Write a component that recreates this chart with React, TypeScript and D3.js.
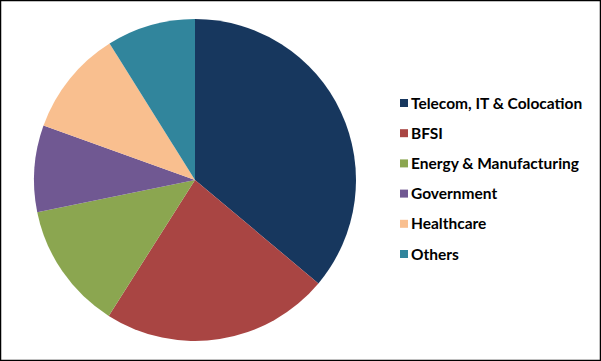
import { useMemo } from "react";
import * as d3 from "d3";

const WIDTH = 601;
const HEIGHT = 361;

const categories = [
    "Telecom, IT & Colocation",
    "BFSI",
    "Energy & Manufacturing",
    "Government",
    "Healthcare",
    "Others",
];
const shares = [36.1, 22.9, 12.8, 8.7, 10.6, 8.9];
const colors = ["#17375E", "#A94543", "#8BA650", "#705892", "#F9BF8F", "#31859C"];

const CENTER_X = 195;
const CENTER_Y = 180;
const RADIUS = 161;

const App = () => {
    const arcs = useMemo(() => {
        const pieGen = d3.pie<number>().sort(null).value((d) => d);
        const arcGen = d3.arc<d3.PieArcDatum<number>>().innerRadius(0).outerRadius(RADIUS);
        return pieGen(shares).map((p) => arcGen(p));
    }, []);

    const legendY = d3.scalePoint<string>().domain(categories).range([103, 254]);

    return (
        <svg
            width={WIDTH}
            height={HEIGHT}
            style={{ position: "absolute", left: 0, top: 0, background: "#fff" }}
        >
            <rect x={0.5} y={0.5} width={WIDTH - 1} height={HEIGHT - 1} fill="#fff" stroke="#000" strokeWidth={1.5} />
            <g transform={`translate(${CENTER_X}, ${CENTER_Y})`}>
                {arcs.map((a, i) => (
                    <path key={i} d={a || undefined} fill={colors[i]} />
                ))}
            </g>
            <g fontFamily="Lato, 'Open Sans', sans-serif" fontWeight="bold" fontSize={15.5}>
                {categories.map((c, i) => {
                    const y = legendY(c) ?? 0;
                    return (
                        <g key={c}>
                            <rect x={400} y={y - 4} width={8} height={8} fill={colors[i]} />
                            <text x={411} y={y} dy="0.36em" fill="#000">
                                {c}
                            </text>
                        </g>
                    );
                })}
            </g>
        </svg>
    );
};

export default App;
